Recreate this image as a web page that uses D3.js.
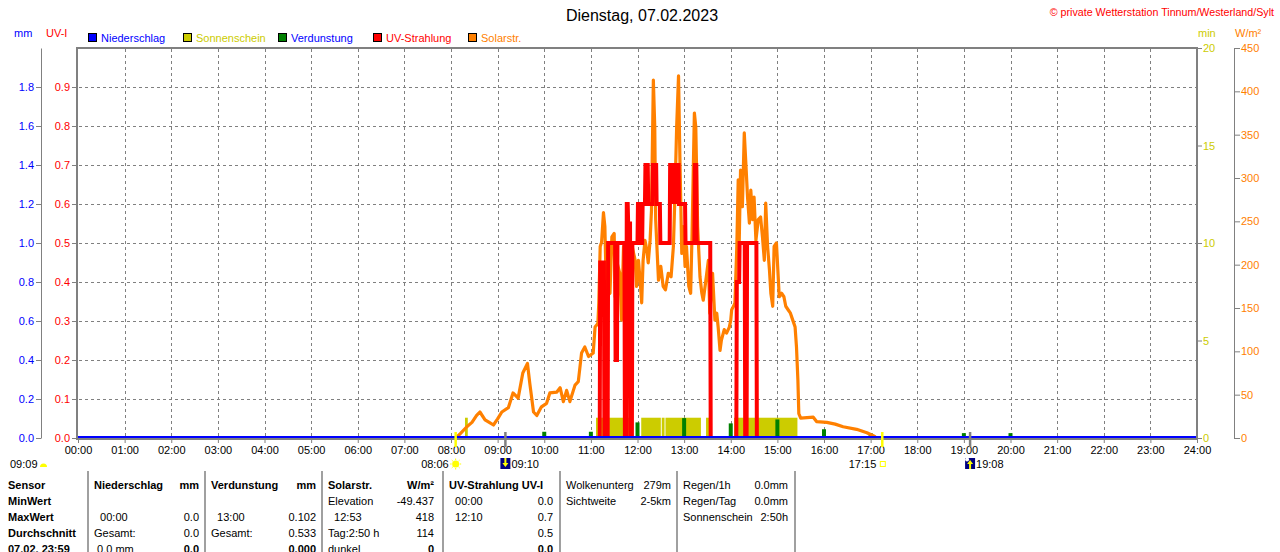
<!DOCTYPE html>
<html lang="de">
<head>
<meta charset="UTF-8">
<title>Dienstag, 07.02.2023</title>
<script src="https://d3js.org/d3.v7.min.js"></script>
<style>
  body { margin: 0; background: #fff; }
  svg { display: block; font-family: "Liberation Sans", Arial, sans-serif; font-size: 11px; }
  .grid line { stroke: #808080; stroke-dasharray: 3,3; stroke-width: 1; }
  .axis path, .axis line { stroke: #808080; }
  .b { font-weight: bold; }
</style>
</head>
<body>
<svg id="chart" width="1280" height="552"></svg>
<script>
// --- data ---
const hours = d3.range(0, 25);
const uvTicks = [0, 0.1, 0.2, 0.3, 0.4, 0.5, 0.6, 0.7, 0.8, 0.9];
const mmTicks = [0, 0.2, 0.4, 0.6, 0.8, 1.0, 1.2, 1.4, 1.6, 1.8];
const minTicks = [0, 5, 10, 15, 20];
const wattTicks = [0, 50, 100, 150, 200, 250, 300, 350, 400, 450];

// Solarstrahlung [Stunde, W/m²]
const solarPoints = [
  [8.10, 0], [8.12, 1], [8.20, 5], [8.34, 13], [8.45, 18], [8.55, 26], [8.62, 30], [8.73, 21],
  [8.82, 18], [8.91, 15], [9.00, 22], [9.09, 30], [9.23, 35], [9.33, 52], [9.44, 46], [9.54, 75],
  [9.64, 86], [9.69, 63], [9.77, 30], [9.84, 26], [9.94, 36], [10.05, 40], [10.12, 52], [10.27, 53],
  [10.34, 58], [10.41, 42], [10.48, 55], [10.55, 42], [10.66, 61], [10.73, 65], [10.80, 98], [10.87, 105],
  [10.95, 94], [11.05, 98], [11.09, 128], [11.15, 132], [11.17, 156], [11.20, 221], [11.23, 226], [11.27, 260],
  [11.30, 244], [11.34, 152], [11.37, 171], [11.41, 167], [11.45, 232], [11.50, 236], [11.52, 163], [11.55, 205],
  [11.62, 190], [11.66, 136], [11.70, 221], [11.77, 113], [11.80, 190], [11.84, 213], [11.87, 225], [11.95, 205],
  [11.98, 175], [12.02, 205], [12.05, 186], [12.09, 156], [12.12, 205], [12.16, 228], [12.20, 217], [12.23, 202],
  [12.27, 228], [12.30, 263], [12.34, 413], [12.37, 359], [12.39, 252], [12.43, 205], [12.45, 182], [12.50, 198],
  [12.55, 175], [12.60, 171], [12.66, 190], [12.72, 186], [12.77, 221], [12.80, 275], [12.84, 359], [12.88, 418],
  [12.91, 321], [12.95, 213], [12.98, 244], [13.02, 198], [13.05, 221], [13.10, 175], [13.14, 167], [13.17, 236],
  [13.22, 375], [13.25, 359], [13.29, 244], [13.34, 186], [13.38, 167], [13.41, 159], [13.45, 175], [13.52, 205],
  [13.55, 144], [13.61, 190], [13.66, 136], [13.70, 144], [13.73, 128], [13.77, 101], [13.80, 113], [13.86, 125],
  [13.91, 121], [13.97, 128], [14.00, 136], [14.02, 148], [14.06, 152], [14.09, 156], [14.13, 221], [14.16, 298],
  [14.18, 221], [14.21, 309], [14.25, 267], [14.29, 352], [14.32, 321], [14.36, 278], [14.40, 248], [14.43, 286],
  [14.47, 252], [14.50, 278], [14.54, 228], [14.59, 252], [14.64, 255], [14.68, 232], [14.72, 205], [14.75, 271],
  [14.79, 221], [14.83, 194], [14.86, 167], [14.90, 152], [14.93, 221], [14.98, 225], [15.01, 194], [15.04, 163],
  [15.09, 167], [15.14, 163], [15.18, 152], [15.23, 148], [15.28, 144], [15.33, 136], [15.38, 128], [15.41, 105],
  [15.44, 67], [15.46, 28], [15.50, 23], [15.77, 24], [15.84, 19], [16.06, 18], [16.24, 16], [16.41, 13],
  [16.70, 10], [16.92, 6], [17.08, 2], [17.12, 0]
];

// UV-Strahlung [Stunde, UV-I]
const uvPoints = [
  [11.00, 0], [11.19, 0], [11.20, 0.45], [11.28, 0.45], [11.29, 0], [11.36, 0], [11.37, 0.5], [11.52, 0.5],
  [11.53, 0.2], [11.56, 0.2], [11.57, 0.5], [11.72, 0.5], [11.73, 0], [11.76, 0], [11.77, 0.6], [11.79, 0.6],
  [11.80, 0.55], [11.84, 0.55], [11.85, 0], [11.88, 0], [11.89, 0.5], [12.00, 0.5], [12.01, 0.6], [12.05, 0.6],
  [12.06, 0.5], [12.10, 0.5], [12.11, 0.6], [12.16, 0.6], [12.17, 0.7], [12.22, 0.7], [12.23, 0.6], [12.32, 0.6],
  [12.33, 0.7], [12.40, 0.7], [12.41, 0.6], [12.48, 0.6], [12.49, 0.5], [12.69, 0.5], [12.70, 0.7], [12.74, 0.7],
  [12.75, 0.6], [12.78, 0.7], [12.82, 0.7], [12.83, 0.6], [12.86, 0.7], [12.88, 0.7], [12.89, 0.6], [13.02, 0.6],
  [13.03, 0.5], [13.22, 0.5], [13.23, 0.7], [13.26, 0.7], [13.27, 0.5], [13.56, 0.5], [13.57, 0], [14.12, 0],
  [14.13, 0.4], [14.18, 0.4], [14.19, 0.5], [14.30, 0.5], [14.31, 0], [14.34, 0], [14.35, 0.5], [14.55, 0.5],
  [14.56, 0], [14.70, 0]
];

// Sonnenschein: Zeitraeume [von, bis] in Stunden, je 1 min/min
const sunshinePeriods = [
  [8.30, 8.36], [11.11, 11.85], [12.08, 12.50], [12.52, 12.58], [12.60, 13.36], [13.47, 13.58], [14.07, 15.43]
];
const sunshineValue = 1.04;

// Verdunstung je Stunde (mm)
const evapHours = [10, 11, 12, 13, 14, 15, 16, 17, 19, 20];
const evapValues = [0.032, 0.032, 0.08, 0.102, 0.075, 0.095, 0.045, 0.025, 0.025, 0.025];

// Sonne/Mond Ereignisse
const sunEvents = [
  { t: 8 + 6 / 60, label: "08:06", kind: "sunrise" },
  { t: 9 + 10 / 60, label: "09:10", kind: "moonset" },
  { t: 17 + 15 / 60, label: "17:15", kind: "sunset" },
  { t: 19 + 8 / 60, label: "19:08", kind: "moonrise" }
];

const legendItems = [
  { name: "Niederschlag", color: "#0000ff", text: "#0000ff" },
  { name: "Sonnenschein", color: "#cccc00", text: "#cccc00" },
  { name: "Verdunstung", color: "#008000", text: "#0000ff" },
  { name: "UV-Strahlung", color: "#ff0000", text: "#ff0000" },
  { name: "Solarstr.", color: "#ff8000", text: "#ff8000" }
];

const tableRowLabels = ["Sensor", "MinWert", "MaxWert", "Durchschnitt", "07.02. 23:59"];
const tableCols = [
  { x0: 88, x1: 199, rows: [["Niederschlag", "mm", 1], ["", "", 0], ["  00:00", "0.0", 0], ["Gesamt:", "0.0", 0], [" 0.0 mm", "0.0", 2]] },
  { x0: 205, x1: 316, rows: [["Verdunstung", "mm", 1], ["", "", 0], ["  13:00", "0.102", 0], ["Gesamt:", "0.533", 0], ["", "0.000", 2]] },
  { x0: 322, x1: 434, rows: [["Solarstr.", "W/m²", 1], ["Elevation", "-49.437", 0], ["  12:53", "418", 0], ["Tag:2:50 h", "114", 0], ["dunkel", "0", 2]] },
  { x0: 443, x1: 553, rows: [["UV-Strahlung UV-I", "", 1], ["  00:00", "0.0", 0], ["  12:10", "0.7", 0], ["", "0.5", 0], ["", "0.0", 2]] },
  { x0: 560, x1: 671, rows: [["Wolkenunterg", "279m", 0], ["Sichtweite", "2-5km", 0]] },
  { x0: 677, x1: 788, rows: [["Regen/1h", "0.0mm", 0], ["Regen/Tag", "0.0mm", 0], ["Sonnenschein", "2:50h", 0]] }
];
const tableSeparators = [88, 205, 322, 443, 560, 677, 795];

// --- scales ---
const svg = d3.select("#chart");
const plot = { left: 78, right: 1197, top: 48, bottom: 438 };

const x = d3.scaleLinear().domain([0, 24]).range([plot.left, plot.right]);
const yUV = d3.scaleLinear().domain([0, 1.0]).range([plot.bottom, plot.top]);
const yMM = d3.scaleLinear().domain([0, 2.0]).range([plot.bottom, plot.top]);
const yMin = d3.scaleLinear().domain([0, 20]).range([plot.bottom, plot.top]);
const yW = d3.scaleLinear().domain([0, 450]).range([plot.bottom, plot.top]);

// title
svg.append("text").attr("x", 642).attr("y", 21).attr("text-anchor", "middle")
  .style("font-size", "16px").text("Dienstag, 07.02.2023");
svg.append("text").attr("x", 1274).attr("y", 16).attr("text-anchor", "end")
  .attr("fill", "#ff0000").style("font-size", "10.7px")
  .text("© private Wetterstation Tinnum/Westerland/Sylt");

// axis units
svg.append("text").attr("x", 14).attr("y", 37).attr("fill", "#0000ff").text("mm");
svg.append("text").attr("x", 46).attr("y", 37).attr("fill", "#ff0000").text("UV-I");
svg.append("text").attr("x", 1198).attr("y", 37).attr("fill", "#cccc00").text("min");
svg.append("text").attr("x", 1235).attr("y", 37).attr("fill", "#ff8000").text("W/m²");

// legend
const leg = svg.append("g").selectAll("g").data(legendItems).join("g")
  .attr("transform", (d, i) => `translate(${88 + i * 95},33)`);
leg.append("rect").attr("width", 8).attr("height", 8).attr("x", 0.5).attr("y", 0.5)
  .attr("fill", d => d.color).attr("stroke", "#000");
leg.append("text").attr("x", 13).attr("y", 9).attr("fill", d => d.text).text(d => d.name);

// grid
const grid = svg.append("g").attr("class", "grid");
grid.selectAll(".h").data(uvTicks.filter(d => d > 0)).join("line")
  .attr("x1", plot.left + 1).attr("x2", plot.right - 1)
  .attr("y1", d => Math.round(yUV(d)) + 0.5).attr("y2", d => Math.round(yUV(d)) + 0.5);
grid.selectAll(".v").data(hours.filter(h => h > 0 && h < 24)).join("line")
  .attr("x1", d => Math.round(x(d)) + 0.5).attr("x2", d => Math.round(x(d)) + 0.5)
  .attr("y1", plot.top + 1).attr("y2", plot.bottom - 1);

// sunshine bars
svg.append("g").selectAll("rect").data(sunshinePeriods).join("rect")
  .attr("x", d => x(d[0])).attr("width", d => x(d[1]) - x(d[0]))
  .attr("y", yMin(sunshineValue)).attr("height", plot.bottom - yMin(sunshineValue))
  .attr("fill", "#cccc00");

// evaporation bars
svg.append("g").selectAll("rect").data(evapHours).join("rect")
  .attr("x", d => x(d) - 2).attr("width", 4)
  .attr("y", (d, i) => yMM(evapValues[i])).attr("height", (d, i) => plot.bottom - yMM(evapValues[i]))
  .attr("fill", "#008000");

// solar line
svg.append("path").datum(solarPoints)
  .attr("d", d3.line().x(d => x(d[0])).y(d => yW(d[1])))
  .attr("fill", "none").attr("stroke", "#ff8000").attr("stroke-width", 3.2)
  .attr("stroke-linejoin", "round");

// UV line
svg.append("path").datum(uvPoints)
  .attr("d", d3.line().x(d => x(d[0])).y(d => yUV(d[1])))
  .attr("fill", "none").attr("stroke", "#ff0000").attr("stroke-width", 4)
  .attr("stroke-linejoin", "miter");

// precipitation zero line
svg.append("line").attr("x1", plot.left).attr("x2", plot.right)
  .attr("y1", yMM(0) - 1).attr("y2", yMM(0) - 1)
  .attr("stroke", "#0000ff").attr("stroke-width", 2);

// frame
svg.append("rect").attr("x", plot.left - 1).attr("y", plot.top).attr("width", plot.right - plot.left + 1)
  .attr("height", plot.bottom - plot.top + 1).attr("fill", "none")
  .attr("stroke", "#808080").attr("stroke-width", 2);

// axes
function styleAxis(g, color) {
  g.attr("class", "axis").selectAll("text").attr("fill", color)
    .style("font-size", "11px").style("font-family", "Liberation Sans, Arial, sans-serif");
}
svg.append("g").attr("transform", "translate(41,0)")
  .call(d3.axisLeft(yMM).tickValues(mmTicks).tickSize(5).tickSizeOuter(0).tickPadding(2).tickFormat(d3.format(".1f")))
  .call(g => styleAxis(g, "#0000ff"));
svg.append("g").attr("transform", `translate(${plot.left - 1},0)`)
  .call(d3.axisLeft(yUV).tickValues(uvTicks).tickSize(5).tickSizeOuter(0).tickPadding(2).tickFormat(d3.format(".1f")))
  .call(g => { g.select(".domain").remove(); styleAxis(g, "#ff0000"); });
svg.append("g").attr("transform", `translate(${plot.right},0)`)
  .call(d3.axisRight(yMin).tickValues(minTicks).tickSize(5).tickSizeOuter(0).tickPadding(1))
  .call(g => { g.select(".domain").remove(); styleAxis(g, "#cccc00"); });
svg.append("g").attr("transform", "translate(1234,0)")
  .call(d3.axisRight(yW).tickValues(wattTicks).tickSize(6).tickSizeOuter(0).tickPadding(1))
  .call(g => styleAxis(g, "#ff8000"));
svg.append("g").attr("transform", `translate(0,${plot.bottom + 1})`)
  .call(d3.axisBottom(x).tickValues(hours).tickSize(4).tickSizeOuter(0).tickPadding(3)
    .tickFormat(h => String(h).padStart(2, "0") + ":00"))
  .call(g => { g.select(".domain").remove(); styleAxis(g, "#000"); });

// sun / moon markers
const ev = svg.append("g");
ev.selectAll("line").data(sunEvents).join("line")
  .attr("x1", d => x(d.t)).attr("x2", d => x(d.t)).attr("y1", 432).attr("y2", 447)
  .attr("stroke", d => d.kind.startsWith("sun") ? "#ffff00" : "#808080").attr("stroke-width", 2.5);
sunEvents.forEach(d => {
  const cx = x(d.t);
  if (d.kind === "sunrise") {
    ev.append("circle").attr("cx", cx).attr("cy", 464).attr("r", 3.5).attr("fill", "#ffff00");
    d3.range(8).forEach(k => {
      const a = k * Math.PI / 4;
      ev.append("line").attr("x1", cx + Math.cos(a) * 4).attr("y1", 464 + Math.sin(a) * 4)
        .attr("x2", cx + Math.cos(a) * 5.5).attr("y2", 464 + Math.sin(a) * 5.5)
        .attr("stroke", "#ffff00").attr("stroke-width", 1);
    });
    ev.append("text").attr("x", cx - 7).attr("y", 468).attr("text-anchor", "end").text(d.label);
  } else if (d.kind === "sunset") {
    ev.append("rect").attr("x", cx - 2).attr("y", 461.5).attr("width", 5).attr("height", 5)
      .attr("fill", "none").attr("stroke", "#ffff00").attr("stroke-width", 1);
    ev.append("text").attr("x", cx - 6).attr("y", 468).attr("text-anchor", "end").text(d.label);
  } else {
    ev.append("rect").attr("x", cx - 5).attr("y", 458).attr("width", 10).attr("height", 11).attr("fill", "#000080");
    const up = d.kind === "moonrise";
    ev.append("path")
      .attr("d", up ? `M${cx},460 L${cx - 3},464 L${cx - 1},464 L${cx - 1},469 L${cx + 1},469 L${cx + 1},464 L${cx + 3},464 Z`
                    : `M${cx},467 L${cx - 3},463 L${cx - 1},463 L${cx - 1},458 L${cx + 1},458 L${cx + 1},463 L${cx + 3},463 Z`)
      .attr("fill", "#ffff00");
    if (up) ev.append("circle").attr("cx", cx - 3).attr("cy", 459.5).attr("r", 2).attr("fill", "#ffffff");
    ev.append("text").attr("x", cx + 6).attr("y", 468).text(d.label);
  }
});
svg.append("text").attr("x", 10).attr("y", 468).text("09:09");
svg.append("path").attr("d", "M40,467 A3.5,3.5 0 0 1 47,467 Z").attr("fill", "#ffff00");

// table
const tbl = svg.append("g");
tbl.selectAll("line").data(tableSeparators).join("line")
  .attr("x1", d => d).attr("x2", d => d).attr("y1", 471).attr("y2", 552)
  .attr("stroke", "#a0a0a0").attr("stroke-width", 2);
tableRowLabels.forEach((t, i) => {
  tbl.append("text").attr("class", "b").attr("x", 8).attr("y", 489 + i * 16).text(t);
});
tableCols.forEach(col => {
  col.rows.forEach((r, i) => {
    const y = 489 + i * 16;
    if (r[0]) tbl.append("text").attr("x", col.x0 + 6).attr("y", y).attr("class", r[2] === 1 ? "b" : null)
      .style("white-space", "pre").text(r[0]);
    if (r[1]) tbl.append("text").attr("x", col.x1).attr("y", y).attr("text-anchor", "end")
      .attr("class", r[2] ? "b" : null).text(r[1]);
  });
});
</script>
</body>
</html>
